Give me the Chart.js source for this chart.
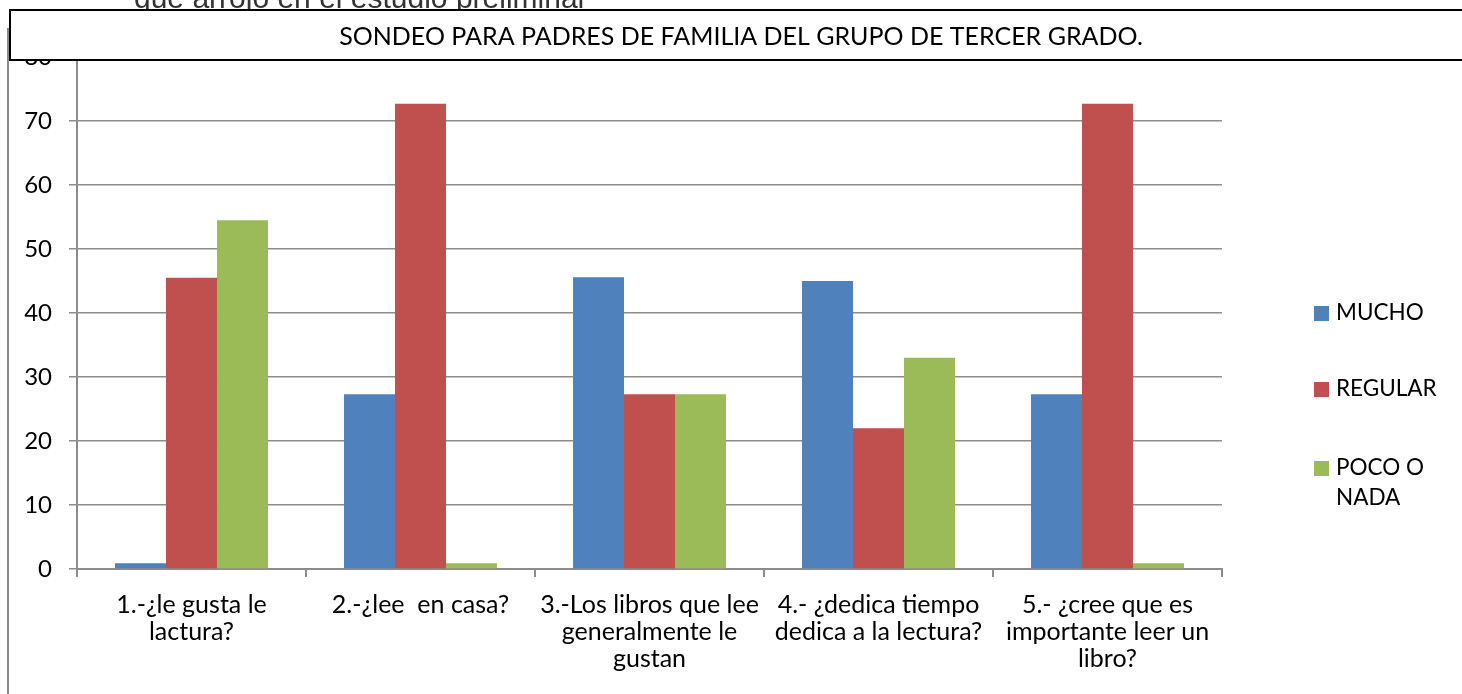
<!DOCTYPE html>
<html>
<head>
<meta charset="utf-8">
<script src="https://cdn.jsdelivr.net/npm/chart.js@4"></script>
<style>
  html, body { margin: 0; padding: 0; background: #fff; }
  #wrap { position: relative; width: 1462px; height: 694px; }
</style>
</head>
<body>
<div id="wrap"><canvas id="sondeo" width="1462" height="694"></canvas></div>
<script>
// categories (multi-line as in the original)
const categories = [
  ['1.-¿le gusta le', 'lactura?'],
  ['2.-¿lee  en casa?'],
  ['3.-Los libros que lee', 'generalmente le', 'gustan'],
  ['4.- ¿dedica tiempo', 'dedica a la lectura?'],
  ['5.- ¿cree que es', 'importante leer un', 'libro?']
];
const mucho = [0.9, 27.3, 45.6, 45, 27.3];
const regular = [45.5, 72.7, 27.3, 22, 72.7];
const pocoNada = [54.5, 0.9, 27.3, 33, 0.9];
const seriesNames = ['MUCHO', 'REGULAR', ['POCO O', 'NADA']];
const colors = ['#4f81bd', '#c0504d', '#9bbb59'];
const yTicks = [0, 10, 20, 30, 40, 50, 60, 70, 80];

const FONT = 'Lato, "Liberation Sans", sans-serif';

// frame, title box, cut-off text above and the legend
const decor = {
  id: 'decor',
  afterDraw(chart) {
    const ctx = chart.ctx;
    ctx.save();
    // text of the page above, cut off
    ctx.fillStyle = '#333';
    ctx.font = '30px "Liberation Sans", Arial, sans-serif';
    ctx.textBaseline = 'alphabetic';
    ctx.fillText('que arrojó en el estudio preliminar', 134, 8);
    // left grey frame line
    ctx.strokeStyle = '#8c8c8c';
    ctx.lineWidth = 2;
    ctx.beginPath();
    ctx.moveTo(8, 28);
    ctx.lineTo(8, 694);
    ctx.stroke();
    // title box
    ctx.fillStyle = '#fff';
    ctx.fillRect(10, 10, 1460, 50);
    ctx.strokeStyle = '#000';
    ctx.lineWidth = 2;
    ctx.strokeRect(10, 10, 1460, 50);
    ctx.fillStyle = '#000';
    ctx.font = '25px ' + FONT;
    ctx.textAlign = 'center';
    ctx.textBaseline = 'middle';
    ctx.fillText('SONDEO PARA PADRES DE FAMILIA DEL GRUPO DE TERCER GRADO.', 741, 37);
    // legend
    ctx.font = '22.5px ' + FONT;
    ctx.textAlign = 'left';
    const legY = [313, 389, 468];
    chart.data.datasets.forEach((ds, i) => {
      ctx.fillStyle = ds.backgroundColor;
      ctx.fillRect(1314, legY[i] - 7, 15, 15);
      ctx.fillStyle = '#000';
      const lines = Array.isArray(seriesNames[i]) ? seriesNames[i] : [seriesNames[i]];
      lines.forEach((t, k) => ctx.fillText(t, 1336, legY[i] + k * 30));
    });
    ctx.restore();
  }
};

new Chart(document.getElementById('sondeo'), {
  type: 'bar',
  data: {
    labels: categories,
    datasets: [
      { label: 'MUCHO', data: mucho, backgroundColor: colors[0] },
      { label: 'REGULAR', data: regular, backgroundColor: colors[1] },
      { label: 'POCO O NADA', data: pocoNada, backgroundColor: colors[2] }
    ]
  },
  options: {
    responsive: false,
    animation: false,
    layout: { padding: { left: 20, right: 240, top: 57, bottom: 0 } },
    datasets: { bar: { categoryPercentage: 0.668, barPercentage: 1.0 } },
    plugins: {
      legend: { display: false },
      tooltip: { enabled: false }
    },
    scales: {
      x: {
        grid: { display: true, offset: true, color: '#8c8c8c', lineWidth: 2, drawOnChartArea: false, tickLength: 8 },
        border: { color: '#8c8c8c', width: 2 },
        ticks: { color: '#000', font: { family: FONT, size: 25, lineHeight: 1.08 }, maxRotation: 0, autoSkip: false, padding: 14 },
        afterFit(scale) { scale.height = 125; }
      },
      y: {
        min: 0,
        max: 80,
        afterBuildTicks(scale) { scale.ticks = yTicks.map(v => ({ value: v })); },
        grid: { color: '#8c8c8c', lineWidth: 1.5, tickLength: 8 },
        border: { color: '#8c8c8c', width: 2 },
        ticks: { color: '#000', font: { family: FONT, size: 24 }, padding: 17 },
        afterFit(scale) { scale.width = 57; }
      }
    }
  },
  plugins: [decor]
});
</script>
</body>
</html>
